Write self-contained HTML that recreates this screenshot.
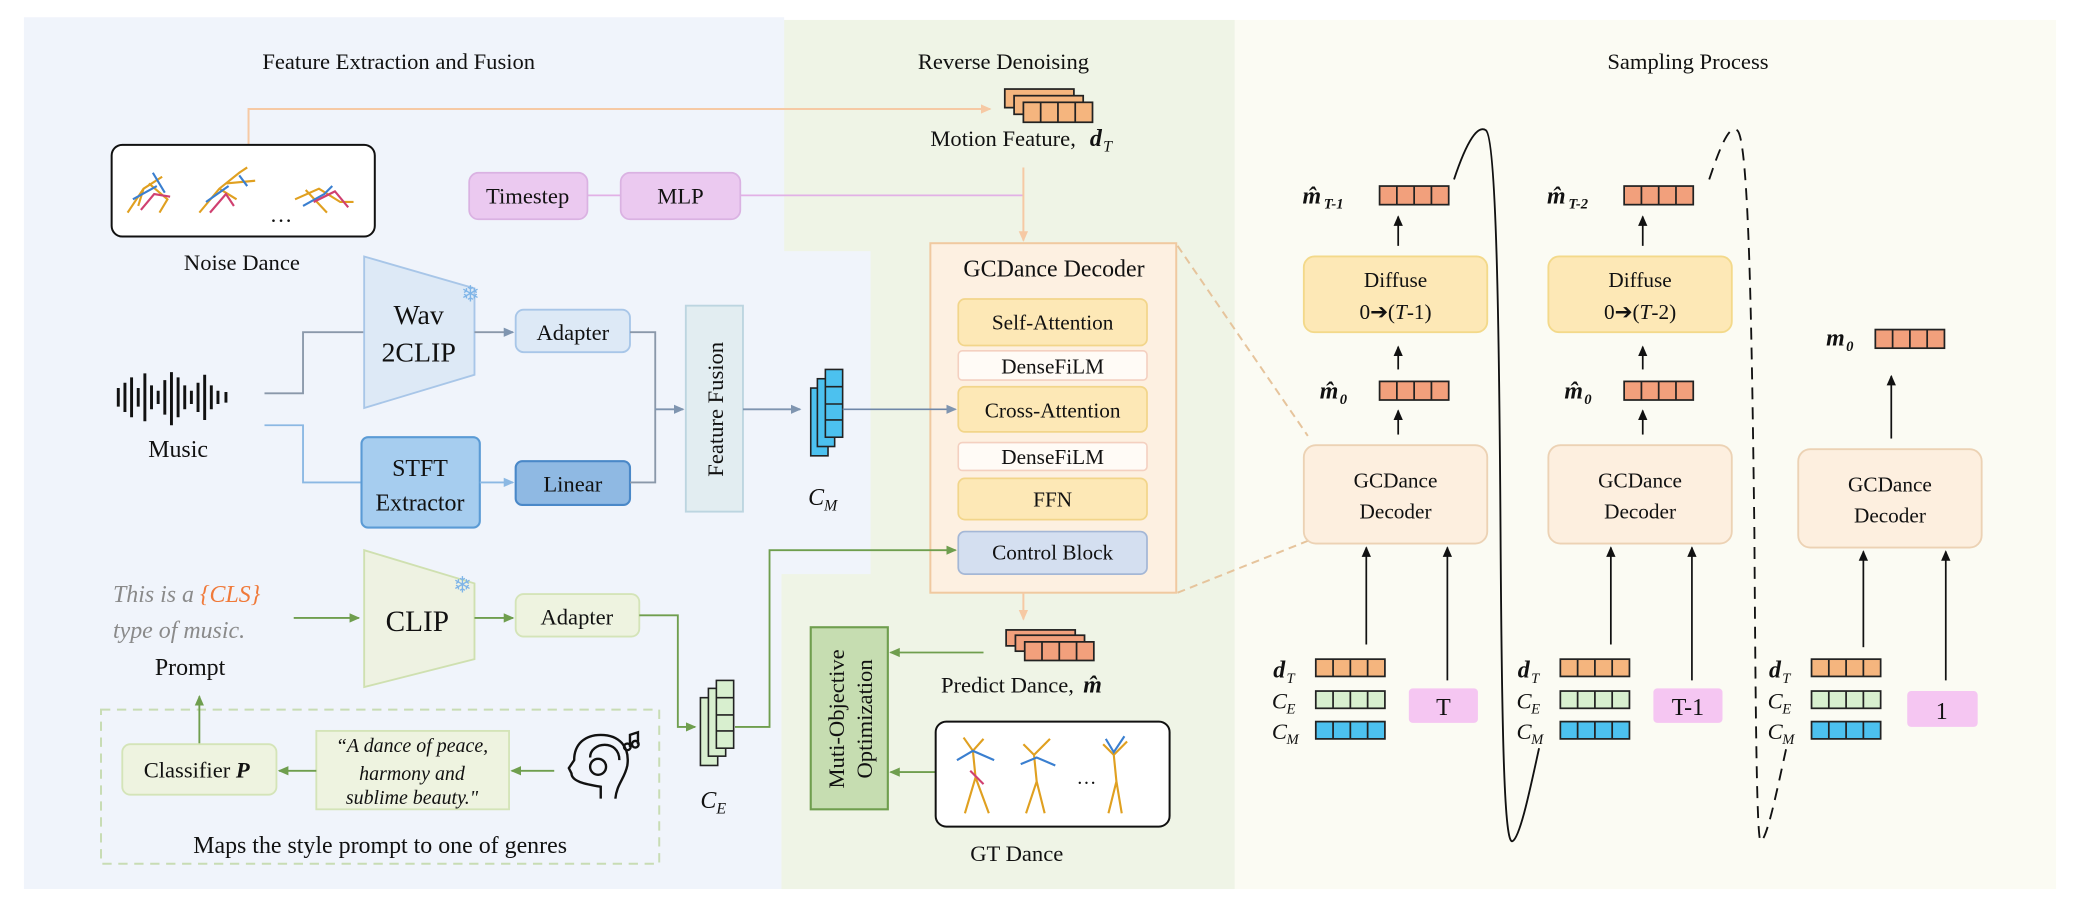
<!DOCTYPE html>
<html><head><meta charset="utf-8"><style>
html,body{margin:0;padding:0;background:#fff;}
svg{display:block;font-family:"Liberation Serif","DejaVu Serif",serif;}
svg text{font-family:"Liberation Serif","DejaVu Serif",serif !important;fill:#111;}
.s{font-size:17px;}
.it{font-style:italic;}
.b{font-weight:bold;}
</style></head><body>
<svg width="2084" height="905" viewBox="0 0 1568 681" preserveAspectRatio="none" xmlns="http://www.w3.org/2000/svg" font-family="Liberation Serif, serif">
<defs>
<marker id="ao" markerWidth="8" markerHeight="8" refX="7" refY="4" orient="auto" markerUnits="userSpaceOnUse"><path d="M0,0.5 L8,4 L0,7.5z" fill="#f6c9a4"/></marker>
<marker id="ab" markerWidth="8" markerHeight="8" refX="7" refY="4" orient="auto" markerUnits="userSpaceOnUse"><path d="M0,0.5 L8,4 L0,7.5z" fill="#7f95b0"/></marker>
<marker id="al" markerWidth="8" markerHeight="8" refX="7" refY="4" orient="auto" markerUnits="userSpaceOnUse"><path d="M0,0.5 L8,4 L0,7.5z" fill="#8bb8e3"/></marker>
<marker id="ag" markerWidth="8" markerHeight="8" refX="7" refY="4" orient="auto" markerUnits="userSpaceOnUse"><path d="M0,0.5 L8,4 L0,7.5z" fill="#6f9e4e"/></marker>
<marker id="ak" markerWidth="8" markerHeight="8" refX="7" refY="4" orient="auto" markerUnits="userSpaceOnUse"><path d="M0,0.5 L8,4 L0,7.5z" fill="#111"/></marker>
<g id="vec4o"><rect x="0" y="0" width="52" height="14" fill="#f2a07c" stroke="#222" stroke-width="1.3"/><path d="M13,0v14M26,0v14M39,0v14" stroke="#222" stroke-width="1.3"/></g>
<g id="vecd"><rect x="0" y="0" width="52" height="13" fill="#f5b57e" stroke="#222" stroke-width="1.3"/><path d="M13,0v13M26,0v13M39,0v13" stroke="#222" stroke-width="1.3"/></g>
<g id="vece"><rect x="0" y="0" width="52" height="13" fill="#d8efcf" stroke="#222" stroke-width="1.3"/><path d="M13,0v13M26,0v13M39,0v13" stroke="#222" stroke-width="1.3"/></g>
<g id="vecm"><rect x="0" y="0" width="52" height="13" fill="#4cc1ef" stroke="#222" stroke-width="1.3"/><path d="M13,0v13M26,0v13M39,0v13" stroke="#222" stroke-width="1.3"/></g>
</defs>
<!-- backgrounds -->
<rect x="929" y="15" width="618" height="654" fill="#fbfbf3"/>
<rect x="588" y="15" width="341" height="654" fill="#eff4e6"/>
<path d="M18,13 H590 V189 H655 V432 H588 V669 H18z" fill="#f0f4fb"/>

<text x="300" y="52" class="s" text-anchor="middle">Feature Extraction and Fusion</text>
<text x="755" y="52" class="s" text-anchor="middle">Reverse Denoising</text>
<text x="1270" y="52" class="s" text-anchor="middle">Sampling Process</text>

<!-- noise dance -->
<path d="M187,109 V82 H745" fill="none" stroke="#f6c9a4" stroke-width="1.5" marker-end="url(#ao)"/>
<rect x="84" y="109" width="198" height="69" rx="8" fill="#fff" stroke="#111" stroke-width="1.5"/>
<g stroke-width="1.6" fill="none">
<path d="M96,160 L108,142 L122,133 M108,142 L104,155 M112,138 L126,150 L120,160" stroke="#e0a020"/>
<path d="M100,150 L118,140 M115,130 L124,145" stroke="#3a7fd0"/>
<path d="M106,158 L116,146 L128,148" stroke="#d04070"/>
<path d="M150,160 L165,142 L180,130 L186,126 M165,142 L178,150 M170,138 L192,136" stroke="#e0a020"/>
<path d="M155,152 L172,140 M180,132 L186,140" stroke="#3a7fd0"/>
<path d="M158,160 L170,146 L176,155" stroke="#d04070"/>
<path d="M222,150 L240,142 L256,152 L266,152 M230,143 L246,160" stroke="#e0a020"/>
<path d="M228,155 L244,146 L250,140" stroke="#3a7fd0"/>
<path d="M236,152 L252,144 L262,156" stroke="#d04070"/>
</g>
<text x="203" y="167" font-size="17">…</text>
<text x="182" y="203" class="s" text-anchor="middle">Noise Dance</text>

<!-- motion feature icon -->
<g transform="translate(756,67)">
<rect x="0" y="0" width="52" height="14" fill="#f5b57e" stroke="#222" stroke-width="1.3"/>
<rect x="7" y="5" width="52" height="14" fill="#f5b57e" stroke="#222" stroke-width="1.3"/>
<rect x="14" y="10" width="52" height="15" fill="#f5b57e" stroke="#222" stroke-width="1.3"/>
<path d="M27,10v15M40,10v15M53,10v15" stroke="#222" stroke-width="1.3"/>
</g>
<text x="700" y="110" class="s">Motion Feature,</text>
<text x="820" y="110" font-size="18" class="b it">d</text><text x="830" y="114" font-size="12" class="it">T</text>

<!-- timestep / mlp -->
<path d="M442,147 H467 M557,147 H770" stroke="#e2b0e6" stroke-width="1.3"/>
<path d="M770,126 V181" stroke="#f6c9a4" stroke-width="1.5" marker-end="url(#ao)"/>
<rect x="353" y="130" width="89" height="35" rx="7" fill="#ebc9f0" stroke="#dab2e2" stroke-width="1.3"/>
<text x="397" y="153" class="s" text-anchor="middle">Timestep</text>
<rect x="467" y="130" width="90" height="35" rx="7" fill="#ebc9f0" stroke="#dab2e2" stroke-width="1.3"/>
<text x="512" y="153" class="s" text-anchor="middle">MLP</text>

<!-- GCDance decoder -->
<rect x="700" y="183" width="185" height="263" fill="#fdf0e1" stroke="#f0c9a0" stroke-width="1.5"/>
<text x="793" y="208" font-size="18" text-anchor="middle">GCDance Decoder</text>
<rect x="721" y="225" width="142" height="35" rx="5" fill="#fde8b6" stroke="#f2d58a" stroke-width="1.3"/>
<text x="792" y="248" font-size="16" text-anchor="middle">Self-Attention</text>
<rect x="721" y="264" width="142" height="22" rx="3" fill="#fffbf6" stroke="#f4d0c0" stroke-width="1.2"/>
<text x="792" y="281" font-size="16" text-anchor="middle">DenseFiLM</text>
<rect x="721" y="291" width="142" height="34" rx="5" fill="#fde8b6" stroke="#f2d58a" stroke-width="1.3"/>
<text x="792" y="314" font-size="16" text-anchor="middle">Cross-Attention</text>
<rect x="721" y="333" width="142" height="21" rx="3" fill="#fffbf6" stroke="#f4d0c0" stroke-width="1.2"/>
<text x="792" y="349" font-size="16" text-anchor="middle">DenseFiLM</text>
<rect x="721" y="360" width="142" height="31" rx="5" fill="#fde8b6" stroke="#f2d58a" stroke-width="1.3"/>
<text x="792" y="381" font-size="16" text-anchor="middle">FFN</text>
<rect x="721" y="400" width="142" height="32" rx="5" fill="#d4dff0" stroke="#a4b7d6" stroke-width="1.3"/>
<text x="792" y="421" font-size="16" text-anchor="middle">Control Block</text>
<path d="M886,185 L984,328 M886,446 L984,407" stroke="#e6c49c" stroke-width="1.5" stroke-dasharray="6,4"/>
<path d="M770,446 V466" stroke="#f6c9a4" stroke-width="1.5" marker-end="url(#ao)"/>

<!-- Music -->
<g stroke="#111" stroke-width="2.2">
<path d="M89,292v14M94,288v22M99,284v30M104,292v14M109,281v36M114,290v18M119,294v10M124,286v26M129,280v40M134,284v30M139,290v18M144,294v10M149,288v22M154,282v34M159,290v18M164,294v10M170,295v8"/>
</g>
<text x="134" y="344" font-size="18" text-anchor="middle">Music</text>
<path d="M199,296 H228 V250 H274" fill="none" stroke="#8a98aa" stroke-width="1.4"/>
<path d="M199,320 H228 V363 H272" fill="none" stroke="#8bb8e3" stroke-width="1.4"/>

<polygon points="274,193 357,217 357,282 274,307" fill="#dde9f6" stroke="#a8c6e8" stroke-width="1.4"/>
<text x="315" y="244" font-size="21" text-anchor="middle">Wav</text>
<text x="315" y="272" font-size="21" text-anchor="middle">2CLIP</text>
<text x="354" y="227" font-size="17" text-anchor="middle" style="fill:#7fb5e8">❄</text>
<path d="M357,250 H386" stroke="#8a98aa" stroke-width="1.4" marker-end="url(#ab)"/>
<rect x="388" y="233" width="86" height="32" rx="6" fill="#dde9f6" stroke="#a8c6e8" stroke-width="1.4"/>
<text x="431" y="256" font-size="17" text-anchor="middle">Adapter</text>

<rect x="272" y="329" width="89" height="68" rx="5" fill="#a6cdef" stroke="#5b9bd5" stroke-width="1.6"/>
<text x="316" y="358" font-size="18" text-anchor="middle">STFT</text>
<text x="316" y="384" font-size="18" text-anchor="middle">Extractor</text>
<path d="M361,363 H386" stroke="#8bb8e3" stroke-width="1.4" marker-end="url(#al)"/>
<rect x="388" y="347" width="86" height="33" rx="5" fill="#8fb9e3" stroke="#4a88c8" stroke-width="1.6"/>
<text x="431" y="370" font-size="17" text-anchor="middle">Linear</text>
<path d="M474,250 H493 V363 H474" fill="none" stroke="#8a98aa" stroke-width="1.4"/>
<path d="M493,308 H514" stroke="#7f95b0" stroke-width="1.4" marker-end="url(#ab)"/>
<rect x="516" y="230" width="43" height="155" fill="#e2edf1" stroke="#bcd5e0" stroke-width="1.4"/>
<text transform="translate(544,308) rotate(-90)" font-size="17" text-anchor="middle">Feature Fusion</text>
<path d="M559,308 H602" stroke="#7f95b0" stroke-width="1.4" marker-end="url(#ab)"/>
<g stroke="#222" stroke-width="1.2" fill="#4cc1ef">
<rect x="610" y="292" width="13" height="51"/><rect x="615" y="285" width="13" height="51"/><rect x="621" y="278" width="13" height="51"/>
<path d="M621,291h13M621,304h13M621,316h13"/>
</g>
<path d="M634,308 H719" stroke="#6f87a8" stroke-width="1.2" marker-end="url(#ab)"/>
<text x="608" y="380" font-size="18" class="it">C</text><text x="620" y="384" font-size="12" class="it">M</text>

<!-- CLIP -->
<text x="85" y="453" font-size="18" class="it" style="fill:#8a8a8a">This is a <tspan style="fill:#f07a3a">{CLS}</tspan></text>
<text x="85" y="480" font-size="18" class="it" style="fill:#8a8a8a">type of music.</text>
<text x="143" y="508" font-size="18" text-anchor="middle">Prompt</text>
<path d="M221,465 H270" stroke="#6f9e4e" stroke-width="1.4" marker-end="url(#ag)"/>
<polygon points="274,414 357,439 357,496 274,517" fill="#eef2e2" stroke="#cfe0b0" stroke-width="1.4"/>
<text x="314" y="475" font-size="22" text-anchor="middle">CLIP</text>
<text x="348" y="446" font-size="17" text-anchor="middle" style="fill:#7fb5e8">❄</text>
<path d="M357,465 H386" stroke="#6f9e4e" stroke-width="1.4" marker-end="url(#ag)"/>
<rect x="388" y="447" width="93" height="32" rx="6" fill="#eef3e0" stroke="#d4e4b8" stroke-width="1.4"/>
<text x="434" y="470" font-size="17" text-anchor="middle">Adapter</text>
<path d="M481,463 H510 V547 H523" fill="none" stroke="#6f9e4e" stroke-width="1.4" marker-end="url(#ag)"/>
<g stroke="#222" stroke-width="1.2" fill="#d8efcf">
<rect x="527" y="525" width="13" height="51"/><rect x="533" y="518" width="13" height="51"/><rect x="539" y="512" width="13" height="51"/>
<path d="M539,525h13M539,538h13M539,550h13"/>
</g>
<text x="527" y="608" font-size="18" class="it">C</text><text x="539" y="612" font-size="12" class="it">E</text>
<path d="M553,547 H579 V414 H719" fill="none" stroke="#6f9e4e" stroke-width="1.4" marker-end="url(#ag)"/>

<!-- dashed classifier box -->
<rect x="76" y="534" width="420" height="116" fill="none" stroke="#c8dcb4" stroke-width="1.5" stroke-dasharray="7,5"/>
<path d="M150,560 V524" stroke="#6f9e4e" stroke-width="1.4" marker-end="url(#ag)"/>
<rect x="92" y="560" width="116" height="38" rx="6" fill="#eef3e0" stroke="#d4e4b8" stroke-width="1.4"/>
<text x="148" y="585" font-size="17" text-anchor="middle">Classifier <tspan class="b it">P</tspan></text>
<rect x="238" y="550" width="145" height="59" fill="#eef3e0" stroke="#d4e4b8" stroke-width="1.4"/>
<text x="310" y="566" font-size="15" class="it" text-anchor="middle">“A dance of peace,</text>
<text x="310" y="587" font-size="15" class="it" text-anchor="middle">harmony and</text>
<text x="310" y="605" font-size="15" class="it" text-anchor="middle">sublime beauty."</text>
<path d="M417,580 H385" stroke="#6f9e4e" stroke-width="1.4" marker-end="url(#ag)"/>
<path d="M238,580 H210" stroke="#6f9e4e" stroke-width="1.4" marker-end="url(#ag)"/>
<g fill="none" stroke="#111" stroke-width="1.8">
<path d="M452,601 V592 C440,590 430,588 430,582 L428,578 L432,572 C432,560 440,553 452,553 C466,553 474,562 472,576 C470,586 464,590 463,601"/>
<path d="M444,570 C444,558 466,556 466,572"/><circle cx="450" cy="577" r="6"/>
<circle cx="472" cy="562" r="2.5"/><circle cx="478" cy="560" r="2.5"/><path d="M474,562 V553 L480,551 V560"/>
</g>
<text x="286" y="642" font-size="18" text-anchor="middle">Maps the style prompt to one of genres</text>

<!-- multi-objective -->
<rect x="610" y="472" width="58" height="137" fill="#c6ddb1" stroke="#6f9e4e" stroke-width="1.6"/>
<text transform="translate(635,541) rotate(-90)" font-size="17" text-anchor="middle">Muti-Objective</text>
<text transform="translate(656,541) rotate(-90)" font-size="17" text-anchor="middle">Optimization</text>
<path d="M740,491 H670" stroke="#6f9e4e" stroke-width="1.4" marker-end="url(#ag)"/>
<path d="M704,581 H670" stroke="#6f9e4e" stroke-width="1.4" marker-end="url(#ag)"/>
<g transform="translate(757,474)">
<rect x="0" y="0" width="52" height="12" fill="#f2a07c" stroke="#222" stroke-width="1.3"/>
<rect x="7" y="4" width="52" height="12" fill="#f2a07c" stroke="#222" stroke-width="1.3"/>
<rect x="14" y="9" width="52" height="14" fill="#f2a07c" stroke="#222" stroke-width="1.3"/>
<path d="M27,9v14M40,9v14M53,9v14" stroke="#222" stroke-width="1.3"/>
</g>
<text x="708" y="521" class="s">Predict Dance,</text>
<text x="815" y="521" font-size="18" class="b it">m̂</text>
<rect x="704" y="543" width="176" height="79" rx="8" fill="#fff" stroke="#111" stroke-width="1.5"/>
<g stroke-width="1.6" fill="none">
<path d="M725,555 L732,565 L740,556 M732,565 L734,585 L726,612 M734,585 L744,612" stroke="#e0a020"/>
<path d="M720,572 L732,565 L748,572" stroke="#3a7fd0"/>
<path d="M730,580 L740,590" stroke="#d04070"/>
<path d="M770,560 L778,568 L790,556 M778,568 L780,588 L772,612 M780,588 L786,612" stroke="#e0a020"/>
<path d="M768,575 L780,570 L794,576" stroke="#3a7fd0"/>
<path d="M830,560 L838,568 L848,558 M838,568 L840,588 L834,612 M840,588 L844,612" stroke="#e0a020"/>
<path d="M832,556 L838,566 L846,554" stroke="#3a7fd0"/>
</g>
<text x="810" y="590" font-size="15">…</text>
<text x="765" y="648" class="s" text-anchor="middle">GT Dance</text>

<!-- sampling col1 -->
<text x="980" y="153" font-size="18" class="b it">m̂</text><text x="996" y="157" font-size="11" class="b it">T-1</text>
<use href="#vec4o" x="1038" y="140"/>
<path d="M1052,185 V163" stroke="#111" stroke-width="1.3" marker-end="url(#ak)"/>
<rect x="981" y="193" width="138" height="57" rx="8" fill="#fde8b6" stroke="#f3d98a" stroke-width="1.4"/>
<text x="1050" y="216" font-size="16" text-anchor="middle">Diffuse</text>
<text x="1050" y="240" font-size="16" text-anchor="middle">0➔(<tspan class="it">T</tspan>-1)</text>
<path d="M1052,278 V261" stroke="#111" stroke-width="1.3" marker-end="url(#ak)"/>
<text x="993" y="300" font-size="18" class="b it">m̂</text><text x="1008" y="304" font-size="11" class="b it">0</text>
<use href="#vec4o" x="1038" y="287"/>
<path d="M1052,327 V309" stroke="#111" stroke-width="1.3" marker-end="url(#ak)"/>
<rect x="981" y="335" width="138" height="74" rx="9" fill="#fdefdf" stroke="#ecd2b4" stroke-width="1.4"/>
<text x="1050" y="367" font-size="16" text-anchor="middle">GCDance</text>
<text x="1050" y="390" font-size="16" text-anchor="middle">Decoder</text>
<path d="M1028,485 V412" stroke="#111" stroke-width="1.3" marker-end="url(#ak)"/>
<path d="M1089,512 V412" stroke="#111" stroke-width="1.3" marker-end="url(#ak)"/>
<text x="958" y="510" font-size="18" class="b it">d</text><text x="968" y="514" font-size="11" class="it">T</text>
<use href="#vecd" x="990" y="496"/>
<text x="957" y="533" font-size="17" class="it">C</text><text x="968" y="537" font-size="11" class="it">E</text>
<use href="#vece" x="990" y="520"/>
<text x="957" y="556" font-size="17" class="it">C</text><text x="968" y="560" font-size="11" class="it">M</text>
<use href="#vecm" x="990" y="543"/>
<rect x="1060" y="518" width="52" height="26" rx="3" fill="#f5c6f2"/>
<text x="1086" y="538" font-size="18" text-anchor="middle">T</text>

<g transform="translate(184,0)">
<text x="980" y="153" font-size="18" class="b it">m̂</text><text x="996" y="157" font-size="11" class="b it">T-2</text>
<use href="#vec4o" x="1038" y="140"/>
<path d="M1052,185 V163" stroke="#111" stroke-width="1.3" marker-end="url(#ak)"/>
<rect x="981" y="193" width="138" height="57" rx="8" fill="#fde8b6" stroke="#f3d98a" stroke-width="1.4"/>
<text x="1050" y="216" font-size="16" text-anchor="middle">Diffuse</text>
<text x="1050" y="240" font-size="16" text-anchor="middle">0➔(<tspan class="it">T</tspan>-2)</text>
<path d="M1052,278 V261" stroke="#111" stroke-width="1.3" marker-end="url(#ak)"/>
<text x="993" y="300" font-size="18" class="b it">m̂</text><text x="1008" y="304" font-size="11" class="b it">0</text>
<use href="#vec4o" x="1038" y="287"/>
<path d="M1052,327 V309" stroke="#111" stroke-width="1.3" marker-end="url(#ak)"/>
<rect x="981" y="335" width="138" height="74" rx="9" fill="#fdefdf" stroke="#ecd2b4" stroke-width="1.4"/>
<text x="1050" y="367" font-size="16" text-anchor="middle">GCDance</text>
<text x="1050" y="390" font-size="16" text-anchor="middle">Decoder</text>
<path d="M1028,485 V412" stroke="#111" stroke-width="1.3" marker-end="url(#ak)"/>
<path d="M1089,512 V412" stroke="#111" stroke-width="1.3" marker-end="url(#ak)"/>
<text x="958" y="510" font-size="18" class="b it">d</text><text x="968" y="514" font-size="11" class="it">T</text>
<use href="#vecd" x="990" y="496"/>
<text x="957" y="533" font-size="17" class="it">C</text><text x="968" y="537" font-size="11" class="it">E</text>
<use href="#vece" x="990" y="520"/>
<text x="957" y="556" font-size="17" class="it">C</text><text x="968" y="560" font-size="11" class="it">M</text>
<use href="#vecm" x="990" y="543"/>
<rect x="1060" y="518" width="52" height="26" rx="3" fill="#f5c6f2"/>
<text x="1086" y="538" font-size="18" text-anchor="middle">T-1</text>
</g>

<!-- col3 -->
<text x="1374" y="260" font-size="18" class="b it">m</text><text x="1389" y="264" font-size="11" class="b it">0</text>
<use href="#vec4o" x="1411" y="248"/>
<path d="M1423,330 V283" stroke="#111" stroke-width="1.3" marker-end="url(#ak)"/>
<rect x="1353" y="338" width="138" height="74" rx="9" fill="#fdefdf" stroke="#ecd2b4" stroke-width="1.4"/>
<text x="1422" y="370" font-size="16" text-anchor="middle">GCDance</text>
<text x="1422" y="393" font-size="16" text-anchor="middle">Decoder</text>
<path d="M1402,487 V415" stroke="#111" stroke-width="1.3" marker-end="url(#ak)"/>
<path d="M1464,512 V415" stroke="#111" stroke-width="1.3" marker-end="url(#ak)"/>
<text x="1331" y="510" font-size="18" class="b it">d</text><text x="1341" y="514" font-size="11" class="it">T</text>
<use href="#vecd" x="1363" y="496"/>
<text x="1330" y="533" font-size="17" class="it">C</text><text x="1341" y="537" font-size="11" class="it">E</text>
<use href="#vece" x="1363" y="520"/>
<text x="1330" y="556" font-size="17" class="it">C</text><text x="1341" y="560" font-size="11" class="it">M</text>
<use href="#vecm" x="1363" y="543"/>
<rect x="1435" y="520" width="53" height="27" rx="3" fill="#f5c6f2"/>
<text x="1461" y="541" font-size="18" text-anchor="middle">1</text>

<!-- loops -->
<path d="M1094,135 C1104,105 1112,94 1118,98 C1126,104 1128,250 1129,400 C1130,560 1132,636 1138,633 C1144,630 1152,590 1158,563" fill="none" stroke="#111" stroke-width="1.4"/>
<path d="M1286,135 C1296,105 1302,94 1307,98 C1316,104 1318,250 1320,400 C1321,560 1322,636 1325,633 C1330,630 1338,590 1344,563" fill="none" stroke="#111" stroke-width="1.4" stroke-dasharray="9,6"/>
</svg>
</body></html>
